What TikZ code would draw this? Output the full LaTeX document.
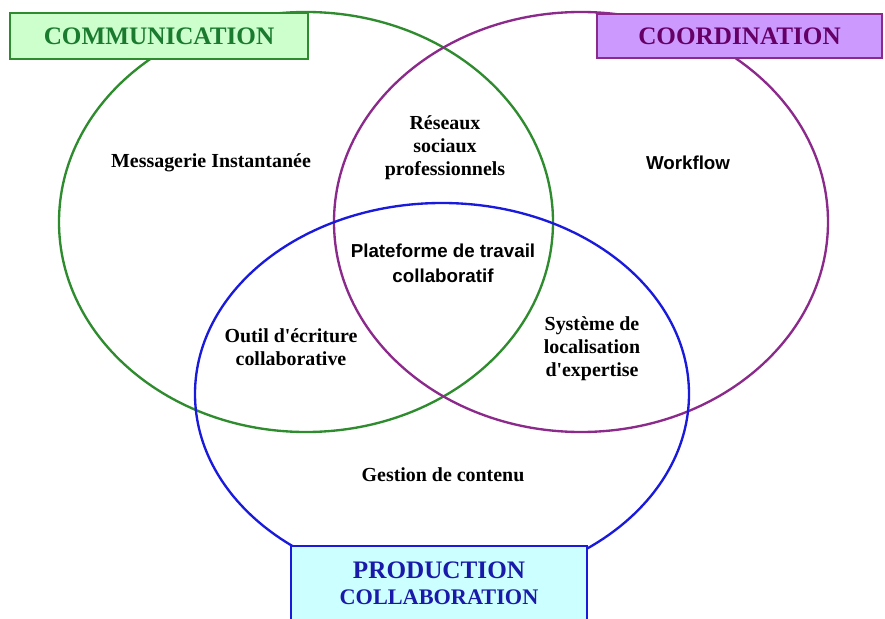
\documentclass[tikz,border=0pt]{standalone}
\usepackage{fontspec}
\setmainfont{Liberation Serif}
\newfontfamily\arialfont{Liberation Sans}

\definecolor{commline}{RGB}{46,139,46}
\definecolor{commfill}{RGB}{204,255,204}
\definecolor{commtext}{RGB}{26,122,46}
\definecolor{coordline}{RGB}{139,42,139}
\definecolor{coordfill}{RGB}{204,153,255}
\definecolor{coordtext}{RGB}{102,0,102}
\definecolor{prodline}{RGB}{26,26,220}
\definecolor{prodfill}{RGB}{204,255,255}
\definecolor{prodtext}{RGB}{26,26,170}

\begin{document}
\begin{tikzpicture}[x=0.03cm, y=-0.03cm,
  circle line/.style={line width=2pt},
  title box/.style={draw, line width=1.5pt, inner sep=0pt, align=center,
    font=\fontsize{21.5}{25}\selectfont\bfseries},
  label/.style={align=center, font=\fontsize{17}{19.5}\selectfont\bfseries},
  sans label/.style={align=center, font=\arialfont\fontsize{16}{21}\selectfont\bfseries}]

\useasboundingbox (0,0) rectangle (885,619);

% Sets
\draw[circle line, commline] (306,222) ellipse [x radius=247, y radius=210];
\draw[circle line, coordline] (581,222) ellipse [x radius=247, y radius=210];
\draw[circle line, prodline] (442,394) ellipse [x radius=247, y radius=191];

% Set titles
\node[title box, draw=commline, fill=commfill, text=commtext,
  minimum width=8.94cm, minimum height=1.38cm] (comm) at (159,36) {COMMUNICATION};
\node[title box, draw=coordline, fill=coordfill, text=coordtext,
  minimum width=8.55cm, minimum height=1.32cm] (coord) at (739.5,36) {COORDINATION};
\node[title box, draw=prodline, fill=prodfill, text=prodtext,
  minimum width=8.88cm, minimum height=2.22cm] (prod) at (439,583)
  {PRODUCTION\\[-3pt]{\fontsize{19}{22}\selectfont COLLABORATION}};

% Tools
\node[label] (messagerie) at (211,163) {Messagerie Instantanée};
\node[label] (reseaux) at (445,148) {Réseaux\\sociaux\\professionnels};
\node[sans label] (workflow) at (688,163) {Workflow};
\node[sans label] (plateforme) at (443,263) {Plateforme de travail\\collaboratif};
\node[label] (outil) at (291,347) {Outil d\textquotesingle écriture\\collaborative};
\node[label] (systeme) at (592,349) {Système de\\localisation\\d\textquotesingle expertise};
\node[label] (gestion) at (443,475) {Gestion de contenu};

\end{tikzpicture}
\end{document}
